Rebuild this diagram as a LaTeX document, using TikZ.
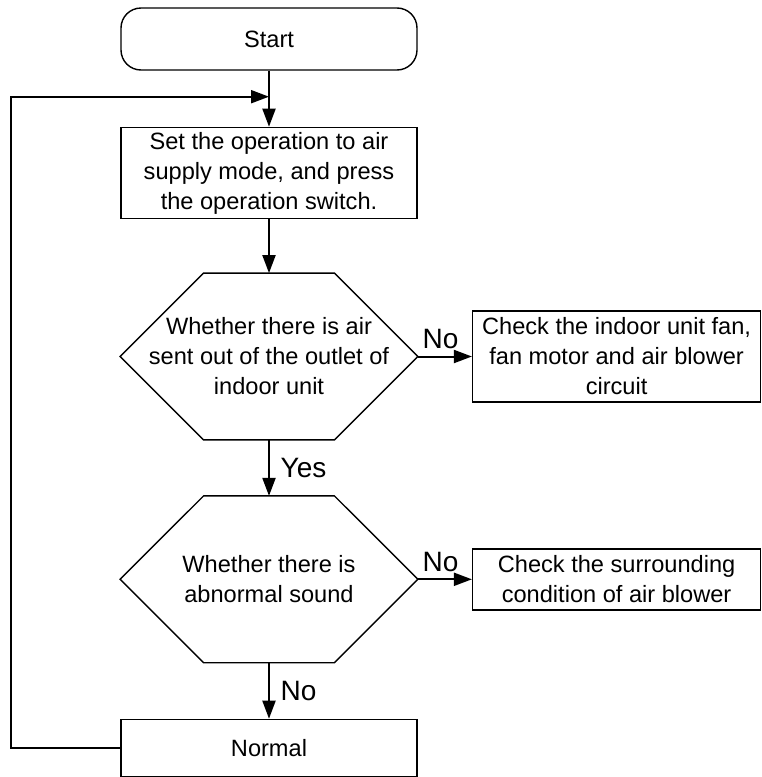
\documentclass[tikz,border=0pt]{standalone}
\usepackage{fontspec}
\setmainfont{Liberation Sans}
\usetikzlibrary{positioning, arrows.meta}

\begin{document}
\begin{tikzpicture}[
    node distance=28pt,
    every node/.style={font=\fontsize{11.8}{15}\selectfont, align=center},
    startbox/.style={draw, rounded corners=10pt, minimum width=148pt, minimum height=31pt, line width=0.7pt},
    stepbox/.style={draw, minimum width=148pt, minimum height=45.5pt, inner sep=0pt, line width=0.7pt},
    checkbox/.style={draw, minimum width=144pt, inner sep=0pt, line width=0.7pt},
    decision/.style={minimum width=148.5pt, minimum height=83pt, inner sep=0pt},
    flow/.style={line width=1pt, -{Triangle[length=9pt,width=6.5pt]}},
    tag/.style={font=\fontsize{14}{16}\selectfont}
]

\useasboundingbox (0,0) rectangle (380.5pt,-388.5pt);

% Main column
\node[startbox] (start) at (134.5pt,-19.5pt) {Start};
\node[stepbox, below=of start] (setmode) {Set the operation to air\\supply mode, and press\\the operation switch.};
\node[decision, below=27pt of setmode] (airout) {Whether there is air\\sent out of the outlet of\\indoor unit};
\node[decision, below=of airout] (sound) {Whether there is\\abnormal sound};
\node[stepbox, minimum height=28.6pt, below=of sound] (normal) {Normal};

% Side checks
\node[checkbox, minimum height=45.5pt, right=27pt of airout] (checkfan) {Check the indoor unit fan,\\fan motor and air blower\\circuit};
\node[checkbox, minimum height=30.5pt, right=27pt of sound] (checkenv) {Check the surrounding\\condition of air blower};

% Hexagon outlines for the decisions
\foreach \d in {airout, sound} {
    \draw[line width=0.7pt] (\d.west) -- ([xshift=41.75pt]\d.north west) -- ([xshift=-41.75pt]\d.north east)
        -- (\d.east) -- ([xshift=-41.75pt]\d.south east) -- ([xshift=41.75pt]\d.south west) -- cycle;
}

% Connectors
\coordinate[below=13pt of start] (join);
\draw[flow] (start) -- (setmode);
\draw[flow] (setmode) -- (airout);
\draw[flow] (airout.east) -- node[tag, above, pos=0.42] {No} (checkfan);
\draw[flow] (airout) -- node[tag, right, xshift=2pt] {Yes} (sound);
\draw[flow] (sound.east) -- node[tag, above, pos=0.42] {No} (checkenv);
\draw[flow] (sound) -- node[tag, right, xshift=2pt] {No} (normal);

% Loop back
\draw[flow] (normal.west) -- ++(-54.5pt,0) |- (join);

\end{tikzpicture}
\end{document}
